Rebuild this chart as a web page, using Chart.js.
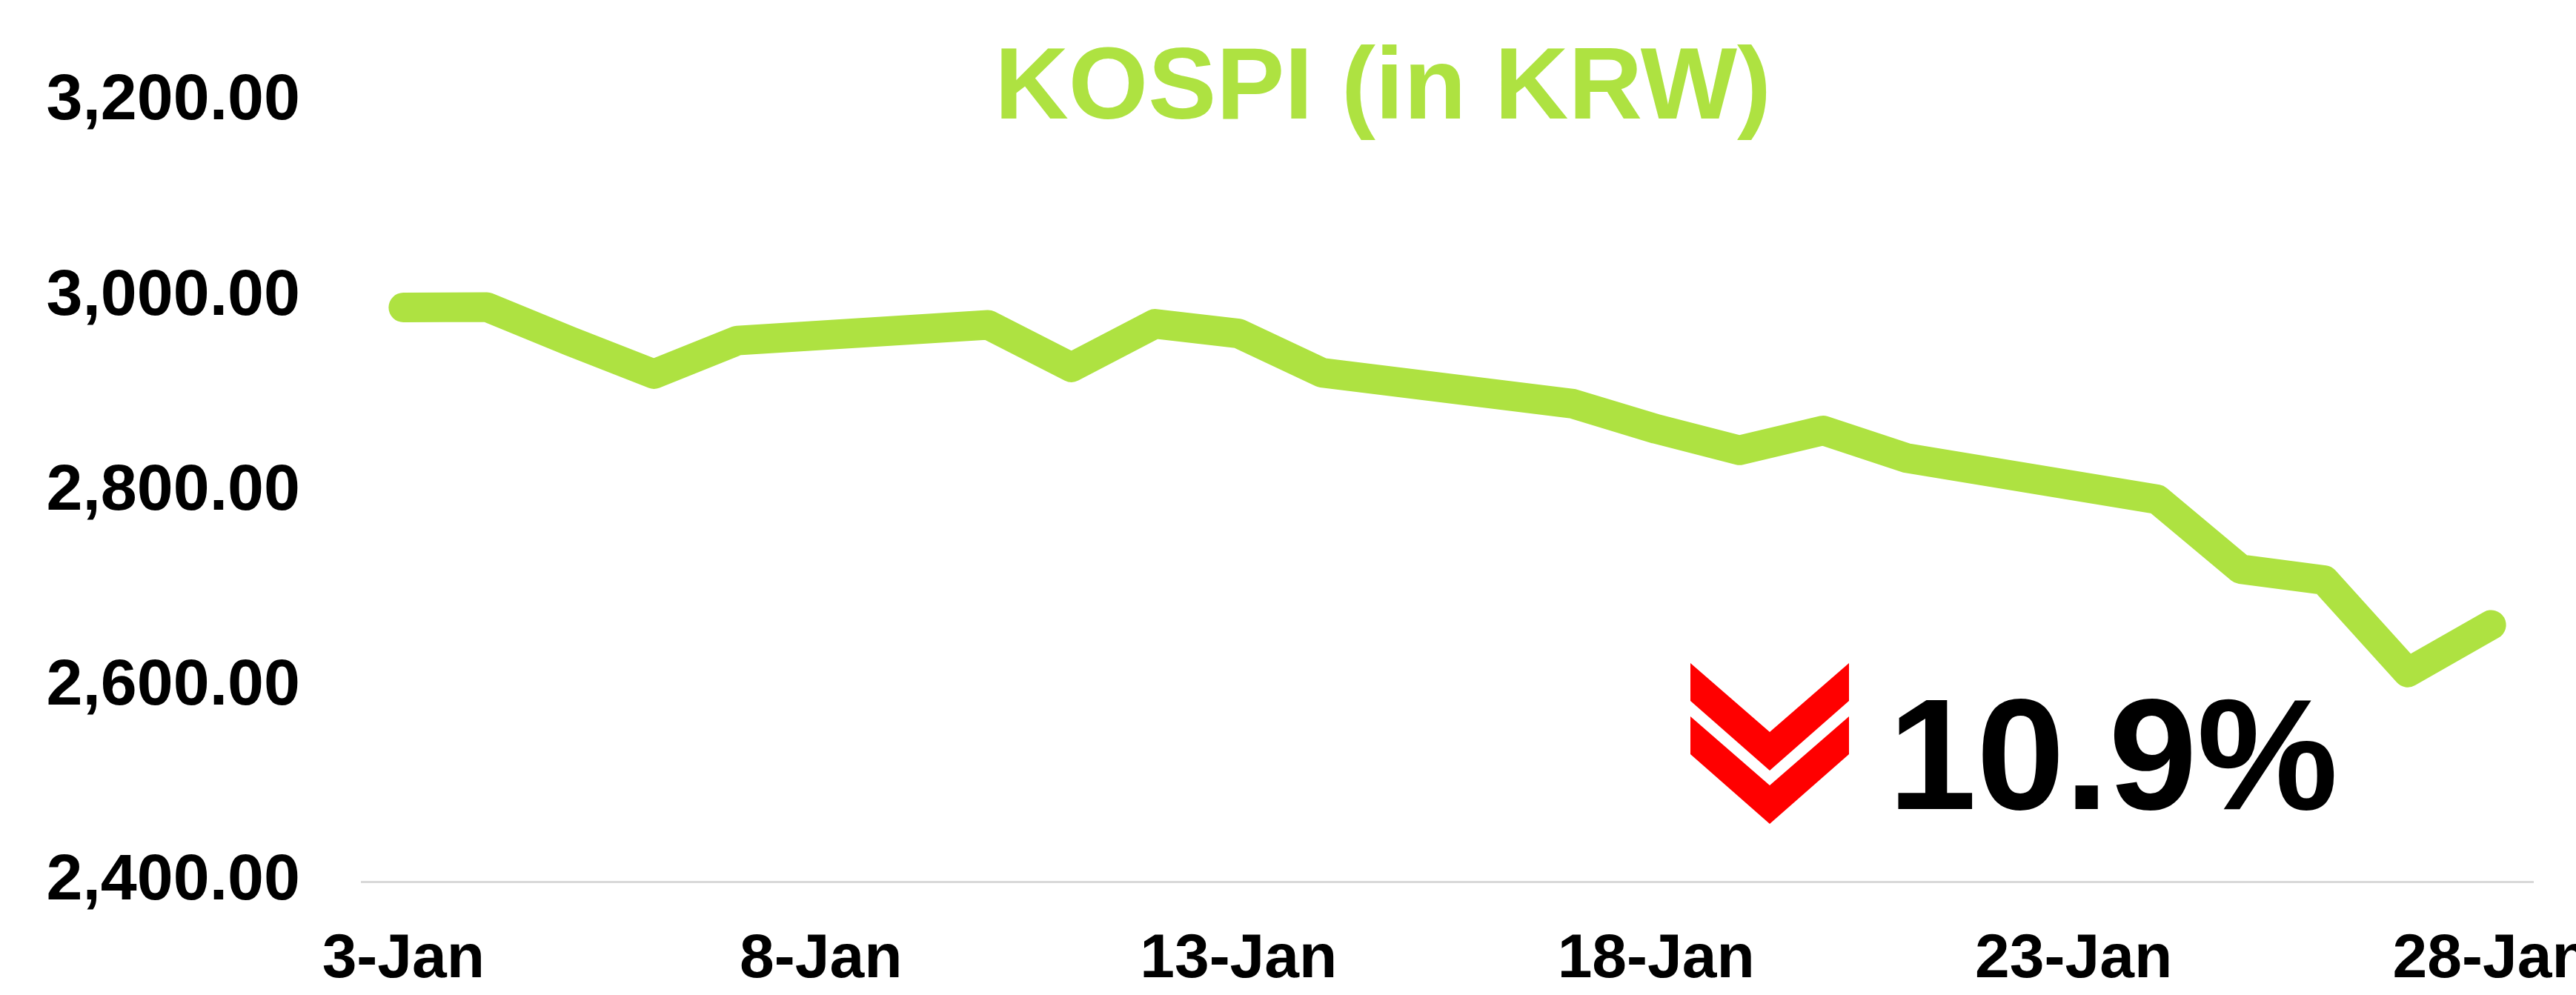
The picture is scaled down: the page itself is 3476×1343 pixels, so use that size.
<!DOCTYPE html>
<html>
<head>
<meta charset="utf-8">
<title>KOSPI (in KRW)</title>
<script src="https://cdn.jsdelivr.net/npm/chart.js@4.4.1/dist/chart.umd.min.js"></script>
<style>
  html, body { margin: 0; padding: 0; background: #fff; overflow: hidden; }
  #kospi-chart { display: block; position: absolute; left: 0; top: 0; }
</style>
</head>
<body>
<canvas id="kospi-chart" width="3578" height="1343"></canvas>
<script>
  // trading days of January (day of month) and KOSPI close
  const days = [3, 4, 5, 6, 7, 10, 11, 12, 13, 14, 17, 18, 19, 20, 21, 24, 25, 26, 27, 28];
  const kospi = [2988.8, 2989.2, 2954.0, 2920.5, 2954.9, 2971.0, 2927.4, 2972.0, 2962.1, 2921.9,
                 2890.1, 2864.2, 2842.3, 2862.7, 2834.3, 2792.0, 2720.4, 2709.2, 2614.5, 2663.3];
  const tickDays = [3, 8, 13, 18, 23, 28];
  const yTicks = [2400, 2600, 2800, 3000, 3200];
  const monthName = 'Jan';
  const changeText = '10.9%';

  const green = 'rgb(174, 226, 65)';
  const fontFamily = '"Liberation Sans", Arial, sans-serif';

  // title + down arrow annotation
  const overlay = {
    id: 'overlay',
    afterDraw(chart) {
      const c = chart.ctx;
      c.save();
      c.fillStyle = green;
      c.font = 'bold 138px ' + fontFamily;
      c.textAlign = 'center';
      c.textBaseline = 'alphabetic';
      c.fillText('KOSPI (in KRW)', 1866, 160);

      c.fillStyle = '#ff0000';
      const chevron = (top) => {
        c.beginPath();
        c.moveTo(2281, top);
        c.lineTo(2388, top + 93);
        c.lineTo(2495, top);
        c.lineTo(2495, top + 51);
        c.lineTo(2388, top + 145);
        c.lineTo(2281, top + 51);
        c.closePath();
        c.fill();
      };
      chevron(895);
      chevron(967);

      c.fillStyle = '#000';
      c.font = 'bold 214px ' + fontFamily;
      c.textAlign = 'left';
      c.fillText(changeText, 2548, 1092);
      c.restore();
    }
  };

  new Chart(document.getElementById('kospi-chart'), {
    type: 'line',
    data: {
      datasets: [{
        label: 'KOSPI',
        data: days.map((d, i) => ({ x: d, y: kospi[i] })),
        borderColor: green,
        backgroundColor: green,
        borderWidth: 40,
        borderCapStyle: 'round',
        borderJoinStyle: 'round',
        pointRadius: 0,
        tension: 0,
        fill: false
      }]
    },
    options: {
      responsive: false,
      animation: false,
      devicePixelRatio: 1,
      // wide right padding: the canvas runs past the window so "28-Jan" is cut off like the original
      layout: { padding: { top: 137, right: 160, bottom: 0, left: 0 } },
      plugins: {
        legend: { display: false },
        tooltip: { enabled: false }
      },
      scales: {
        x: {
          type: 'linear',
          min: 2.5,
          max: 28.5,
          grid: { display: false, drawTicks: false },
          border: { display: true, color: '#d9d9d9', width: 3 },
          afterBuildTicks: (s) => { s.ticks = tickDays.map(v => ({ value: v })); },
          afterFit: (s) => { s.height = 153; },
          ticks: {
            color: '#000',
            padding: 55,
            maxRotation: 0,
            autoSkip: false,
            font: { family: fontFamily, size: 84, weight: 'bold' },
            callback: (v) => v + '-' + monthName
          }
        },
        y: {
          min: yTicks[0],
          max: yTicks[yTicks.length - 1],
          grid: { display: false, drawTicks: false },
          border: { display: false },
          afterBuildTicks: (s) => { s.ticks = yTicks.map(v => ({ value: v })); },
          afterFit: (s) => { s.width = 488; },
          ticks: {
            color: '#000',
            padding: 83,
            font: { family: fontFamily, size: 88, weight: 'bold' },
            callback: (v) => v.toLocaleString('en-US', { minimumFractionDigits: 2, maximumFractionDigits: 2 })
          }
        }
      }
    },
    plugins: [overlay]
  });
</script>
</body>
</html>
